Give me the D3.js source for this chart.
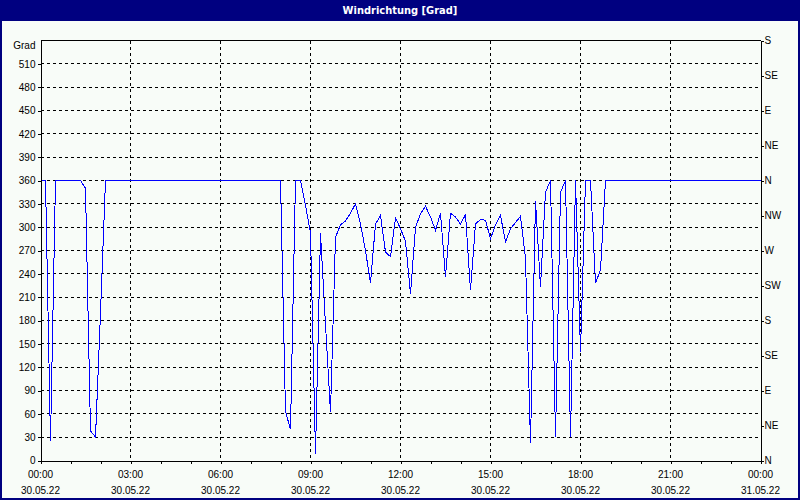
<!DOCTYPE html>
<html>
<head>
<meta charset="utf-8">
<script src="https://d3js.org/d3.v7.min.js"></script>
<style>
  body { margin: 0; background: #ffffff; }
  svg { display: block; }
  .lbl { font-family: "Liberation Sans", Tahoma, sans-serif; font-size: 10px; fill: #000; }
  .grid line { stroke: #000; stroke-dasharray: 3,3; shape-rendering: crispEdges; }
  .axis path, .axis line { stroke: #000; shape-rendering: crispEdges; }
</style>
</head>
<body>
<script>
// chart title
var title = "Windrichtung [Grad]";

// measured points (time, degrees)
var times = [
  "30.05.22 00:00","30.05.22 00:10","30.05.22 00:20","30.05.22 00:30",
  "30.05.22 01:20","30.05.22 01:30","30.05.22 01:40","30.05.22 01:50","30.05.22 02:00","30.05.22 02:10",
  "30.05.22 08:00","30.05.22 08:10","30.05.22 08:20","30.05.22 08:30","30.05.22 08:40","30.05.22 08:50",
  "30.05.22 09:00","30.05.22 09:10","30.05.22 09:20","30.05.22 09:30","30.05.22 09:40","30.05.22 09:50",
  "30.05.22 10:00","30.05.22 10:10","30.05.22 10:20","30.05.22 10:30","30.05.22 10:40","30.05.22 10:50",
  "30.05.22 11:00","30.05.22 11:10","30.05.22 11:20","30.05.22 11:30","30.05.22 11:40","30.05.22 11:50",
  "30.05.22 12:00","30.05.22 12:10","30.05.22 12:20","30.05.22 12:30","30.05.22 12:40","30.05.22 12:50",
  "30.05.22 13:00","30.05.22 13:10","30.05.22 13:20","30.05.22 13:30","30.05.22 13:40","30.05.22 13:50",
  "30.05.22 14:00","30.05.22 14:10","30.05.22 14:20","30.05.22 14:30","30.05.22 14:40","30.05.22 14:50",
  "30.05.22 15:00","30.05.22 15:10","30.05.22 15:20","30.05.22 15:30","30.05.22 15:40","30.05.22 15:50",
  "30.05.22 16:00","30.05.22 16:10","30.05.22 16:20","30.05.22 16:30","30.05.22 16:40","30.05.22 16:50",
  "30.05.22 17:00","30.05.22 17:10","30.05.22 17:20","30.05.22 17:30","30.05.22 17:40","30.05.22 17:50",
  "30.05.22 18:00","30.05.22 18:10","30.05.22 18:20","30.05.22 18:30","30.05.22 18:40","30.05.22 18:50",
  "31.05.22 00:00"
];
var degrees = [
  360, 360, 25, 360,
  360, 350, 38, 30, 190, 360,
  360, 63, 40, 360, 360, 328,
  293, 9, 292, 175, 62, 287,
  303, 308, 318, 330, 304, 270,
  228, 304, 315, 268, 262, 312,
  298, 282, 214, 300, 317, 327,
  313, 296, 318, 236, 318, 313,
  304, 316, 219, 304, 310, 309,
  285, 303, 315, 281, 298, 306,
  314, 260, 22, 334, 223, 345,
  360, 30, 345, 360, 30, 360,
  140, 360, 360, 228, 245, 360,
  360
];

// axis labels
var leftTicks = [0,30,60,90,120,150,180,210,240,270,300,330,360,390,420,450,480,510];
var rightTicks = [0,45,90,135,180,225,270,315,360,405,450,495,540];
var rightLabels = ["N","NE","E","SE","S","SW","W","NW","N","NE","E","SE","S"];
var yUnit = "Grad";

var W = 800, H = 500;
var margin = {top: 40, right: 40, bottom: 40, left: 40};
var pw = W - margin.left - margin.right, ph = H - margin.top - margin.bottom;

var parse = d3.timeParse("%d.%m.%y %H:%M");
var data = times.map(function(t, i){ return {t: parse(t), v: degrees[i]}; });

var x = d3.scaleTime().domain([parse("30.05.22 00:00"), parse("31.05.22 00:00")]).range([0, pw]);
var y = d3.scaleLinear().domain([0, 540]).range([ph, 0]);

var svg = d3.select("body").append("svg").attr("width", W).attr("height", H);

// frame + title bar
svg.append("rect").attr("x", 0).attr("y", 0).attr("width", W).attr("height", H).attr("fill", "#000080");
svg.append("rect").attr("x", 2).attr("y", 21).attr("width", W - 4).attr("height", H - 23).attr("fill", "#f8fcf8");
svg.append("text")
  .attr("x", W / 2).attr("y", 14)
  .attr("text-anchor", "middle")
  .style("font-family", "'Liberation Sans Narrow', 'DejaVu Sans Condensed', sans-serif")
  .style("font-weight", "bold").style("font-size", "11px")
  .attr("fill", "#ffffff")
  .text(title);

var g = svg.append("g").attr("transform", "translate(" + (margin.left + 0.5) + "," + (margin.top + 0.5) + ")");

// grid
var grid = g.append("g").attr("class", "grid");
grid.selectAll(".h").data(leftTicks.filter(function(d){ return d > 0; }))
  .enter().append("line")
  .attr("x1", 0).attr("x2", pw)
  .attr("y1", function(d){ return y(d); }).attr("y2", function(d){ return y(d); });
var hourTicks = d3.timeHour.every(1).range(x.domain()[0], d3.timeMinute.offset(x.domain()[1], 1));
var majorTicks = hourTicks.filter(function(d){ return d.getHours() % 3 === 0; });
grid.selectAll(".v").data(majorTicks.slice(1, -1))
  .enter().append("line")
  .attr("y1", 0).attr("y2", ph)
  .attr("x1", function(d){ return x(d); }).attr("x2", function(d){ return x(d); });

// series
g.append("path")
  .datum(data)
  .attr("fill", "none")
  .attr("stroke", "#0000ff")
  .attr("stroke-width", 1)
  .style("shape-rendering", "crispEdges")
  .attr("d", d3.line().x(function(d){ return x(d.t); }).y(function(d){ return y(d.v); }));

// top border
g.append("line").attr("x1", 0).attr("x2", pw).attr("y1", 0).attr("y2", 0)
  .attr("stroke", "#000").style("shape-rendering", "crispEdges");

// left axis
var la = g.append("g").attr("class", "axis")
  .call(d3.axisLeft(y).tickValues(leftTicks).tickSize(3).tickSizeOuter(0));
la.selectAll("text").attr("class", "lbl").attr("x", -5);
la.attr("font-family", null).attr("font-size", null);
g.append("text").attr("class", "lbl")
  .attr("x", -5).attr("y", 5).attr("dy", "0.32em")
  .attr("text-anchor", "end").text(yUnit);

// right axis
var ra = g.append("g").attr("class", "axis")
  .attr("transform", "translate(" + pw + ",0)")
  .call(d3.axisRight(y).tickValues(rightTicks).tickSize(3).tickSizeOuter(0)
    .tickFormat(function(d, i){ return rightLabels[i]; }));
ra.selectAll("text").attr("class", "lbl").attr("x", 4);
ra.attr("font-family", null).attr("font-size", null);

// bottom axis
var ba = g.append("g").attr("class", "axis")
  .attr("transform", "translate(0," + ph + ")")
  .call(d3.axisBottom(x).tickValues(hourTicks).tickSize(3).tickSizeOuter(0).tickFormat(""));
ba.attr("font-family", null).attr("font-size", null);

var fmtT = d3.timeFormat("%H:%M"), fmtD = d3.timeFormat("%d.%m.%y");
var xl = g.append("g").selectAll("g").data(majorTicks).enter().append("g")
  .attr("transform", function(d){ return "translate(" + x(d) + "," + ph + ")"; });
xl.append("text").attr("class", "lbl").attr("text-anchor", "middle").attr("y", 17).text(fmtT);
xl.append("text").attr("class", "lbl").attr("text-anchor", "middle").attr("y", 33).text(fmtD);
</script>
</body>
</html>
